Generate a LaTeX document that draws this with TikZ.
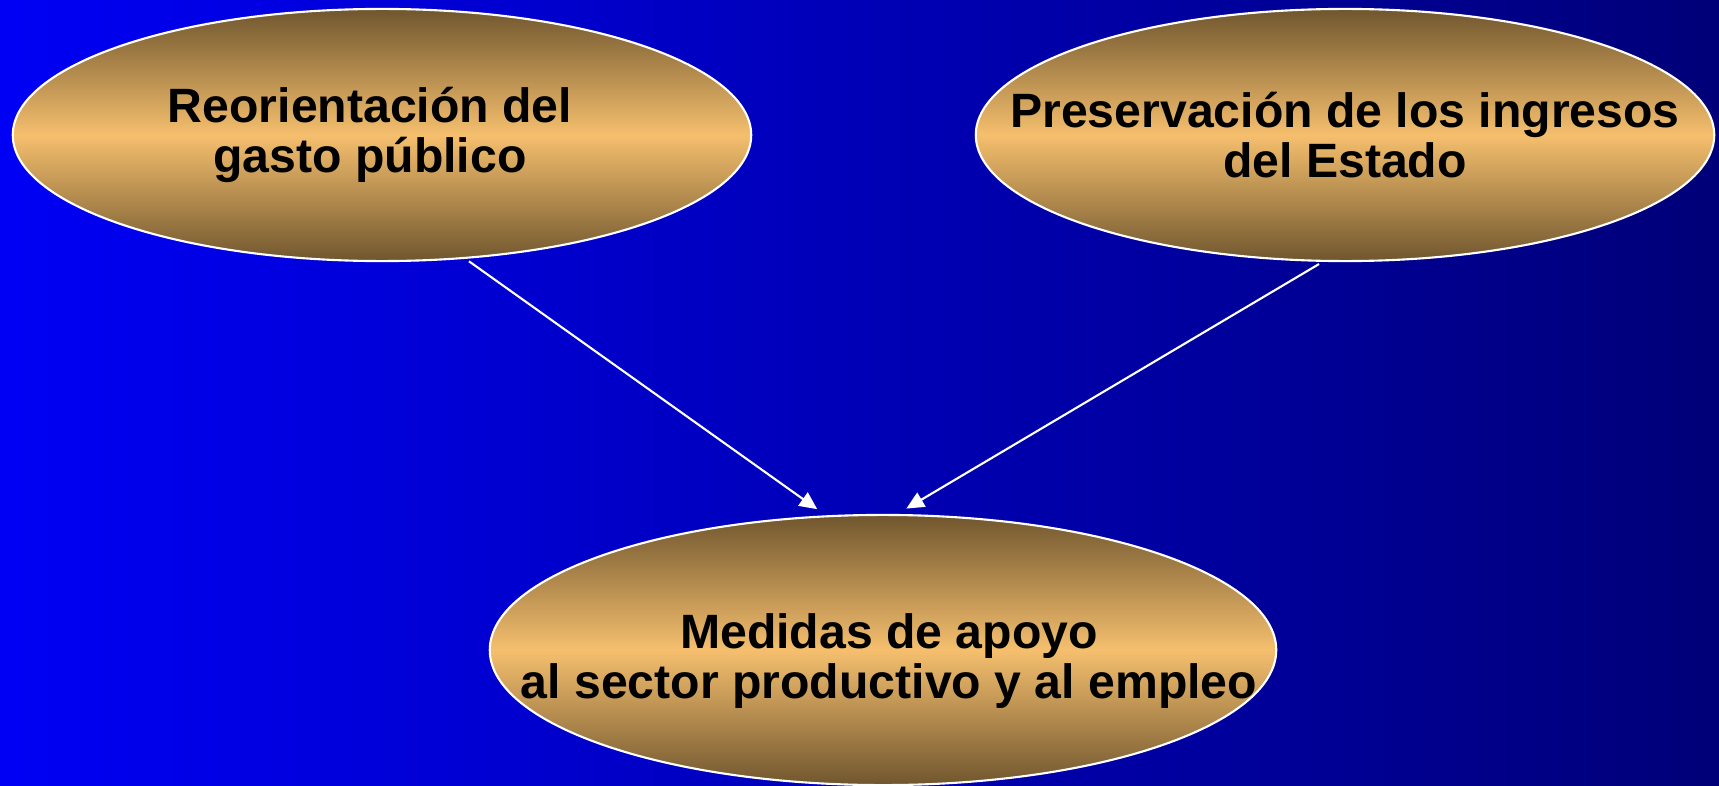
\documentclass[tikz,border=0pt]{standalone}
\usepackage{fontspec}
\setmainfont{Liberation Sans}
\usetikzlibrary{shapes.geometric,arrows.meta}
\definecolor{bgleft}{RGB}{0,0,245}
\definecolor{bgright}{RGB}{0,0,120}
\definecolor{ovaldark}{RGB}{112,86,46}
\definecolor{ovallight}{RGB}{245,191,110}
\tikzset{
  oval/.style={ellipse,draw=white,line width=0.6pt,inner sep=0pt,
    top color=ovaldark,bottom color=ovaldark,middle color=ovallight},
  ovaltext/.style={align=center,font=\fontsize{13.7}{14.3}\selectfont\bfseries,inner sep=0pt},
  link/.style={draw=white,line width=0.6pt,-{Triangle[length=5pt,width=4.6pt]}}
}
\begin{document}
\begin{tikzpicture}[x=0.01cm,y=-0.01cm]
    % background
    \useasboundingbox (0,0) rectangle (1719,785);
    \shade[left color=bgleft,right color=bgright] (0,0) rectangle (1719,785);
    % ovals
    \node[oval,minimum width=7.38cm,minimum height=2.52cm] (gasto) at (382,135) {};
    \node[oval,minimum width=7.38cm,minimum height=2.52cm] (ingresos) at (1345,135) {};
    \node[oval,minimum width=7.86cm,minimum height=2.70cm] (medidas) at (883,650) {};
    % texts
    \node[ovaltext] (gastoT) at (370,135) {Reorientación del\\gasto público};
    \node[ovaltext] (ingresosT) at (1345,135) {Preservación de los ingresos\\del Estado};
    \node[ovaltext] (medidasT) at (889,661) {Medidas de apoyo\\al sector productivo y al empleo};
    % arrows
    \draw[link,shorten <=1.2pt,shorten >=3pt] (gasto.-56) -- (medidas.113);
    \draw[link,shorten <=1.2pt,shorten >=3pt] (ingresos.-100) -- (medidas.84);
\end{tikzpicture}
\end{document}
